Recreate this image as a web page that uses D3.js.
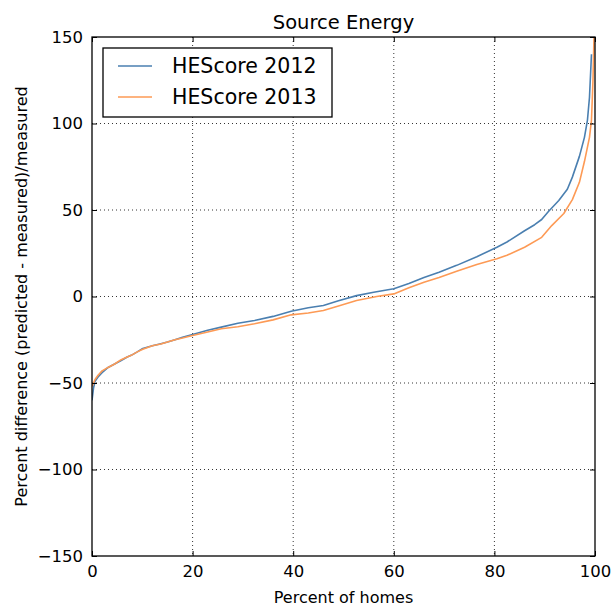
<!DOCTYPE html>
<html>
<head>
<meta charset="utf-8">
<script src="https://cdn.jsdelivr.net/npm/d3@7"></script>
<style>
  body { margin: 0; background: #fff; }
  svg { font-family: "DejaVu Sans", sans-serif; }
</style>
</head>
<body>
<svg id="chart" width="613" height="608"></svg>
<script>
// percent of homes (x) and percent difference (y)
const pct2012 = [0, 0.3, 0.6, 1.2, 2, 3.2, 4.5, 5.8, 7, 7.8, 9, 10.1, 12, 13.7, 15, 16.5, 18, 20,
  23, 25.7, 29, 32.3, 36, 39.6, 43, 46, 49, 52.6, 56, 60, 63, 66, 69, 72.5, 76.5, 80.5,
  82.5, 86, 88, 89.4, 90.7, 92.8, 94.5, 95.5, 96.9, 97.9, 98.5, 98.9, 99.3];
const diff2012 = [-60, -53, -49, -46.5, -44, -41, -39, -37, -35, -34, -32, -30, -28.5, -27.3, -26.3, -25, -23.5, -22,
  -19.5, -17.7, -15.5, -13.9, -11.5, -8.5, -6.5, -5.2, -2.5, 0.5, 2.5, 4.5, 7.5, 11, 14, 18, 23, 28.5,
  31.5, 38, 41.5, 44.5, 49, 55.5, 62, 69, 81, 92, 102, 115, 140];

const pct2013 = [0, 0.3, 0.6, 1.2, 2, 3.2, 4.5, 5.8, 7, 7.8, 9, 10.1, 12, 13.7, 15, 16.5, 18, 20,
  23, 25.7, 29, 32.3, 36, 39.6, 43, 46, 49, 52.6, 56.6, 60, 63, 66, 69, 72.5, 76.5, 80.5,
  82.5, 86, 89.4, 91.4, 93.8, 95.5, 96.9, 97.9, 98.9, 99.3, 99.6, 99.8, 100];
const diff2013 = [-52, -50, -48, -45.5, -43, -41, -39, -36.5, -35, -34, -32, -30.5, -28.5, -27.5, -26.3, -25, -24, -22.5,
  -20.5, -18.6, -17.5, -15.8, -13.5, -10.6, -9.5, -8.1, -5.5, -2.3, 0, 1.5, 5, 8.3, 11, 14.6, 18.5, 21.8,
  23.8, 28.5, 34.2, 41, 48, 56, 66, 78, 92, 102, 125, 150, 160];

const seriesNames = ["HEScore 2012", "HEScore 2013"];
const seriesColors = ["#4a7fb0", "#fd9a55"];
const xTicks = [0, 20, 40, 60, 80, 100];
const yTicks = [-150, -100, -50, 0, 50, 100, 150];

const svg = d3.select("#chart");
const margin = {left: 92, right: 18, top: 37, bottom: 52};
const W = 613 - margin.left - margin.right;
const H = 608 - margin.top - margin.bottom;

const x = d3.scaleLinear().domain([0, 100]).range([0, W]);
const y = d3.scaleLinear().domain([-150, 150]).range([H, 0]);

const g = svg.append("g").attr("transform", `translate(${margin.left},${margin.top})`);

svg.append("defs").append("clipPath").attr("id", "clip")
  .append("rect").attr("width", W).attr("height", H);

// grid
g.append("g").selectAll("line").data(xTicks.slice(1, -1)).join("line")
  .attr("x1", d => x(d)).attr("x2", d => x(d)).attr("y1", 0).attr("y2", H)
  .attr("stroke", "#000").attr("stroke-width", 0.8).attr("stroke-dasharray", "1,3");
g.append("g").selectAll("line").data(yTicks.slice(1, -1)).join("line")
  .attr("y1", d => y(d)).attr("y2", d => y(d)).attr("x1", 0).attr("x2", W)
  .attr("stroke", "#000").attr("stroke-width", 0.8).attr("stroke-dasharray", "1,3");

// lines
const line = d3.line().x(d => x(d[0])).y(d => y(d[1]));
const data = [d3.zip(pct2012, diff2012), d3.zip(pct2013, diff2013)];
g.append("g").attr("clip-path", "url(#clip)").selectAll("path").data(data).join("path")
  .attr("d", line)
  .attr("fill", "none")
  .attr("stroke", (d, i) => seriesColors[i])
  .attr("stroke-width", 1.6)
  .attr("stroke-linejoin", "round");

// axes, ticks inward on all sides
const tickStyle = sel => {
  sel.select(".domain").remove();
  sel.selectAll("text").attr("font-size", 16.5).attr("font-family", "DejaVu Sans").attr("fill", "#000");
  sel.selectAll("line").attr("stroke", "#000");
};
g.append("g").attr("transform", `translate(0,${H})`)
  .call(d3.axisBottom(x).tickValues(xTicks).tickSize(-5).tickPadding(9))
  .call(tickStyle);
g.append("g")
  .call(d3.axisLeft(y).tickValues(yTicks).tickSize(-5).tickPadding(9))
  .call(tickStyle);
g.append("g")
  .call(d3.axisTop(x).tickValues(xTicks).tickSize(-5).tickFormat(""))
  .call(tickStyle);
g.append("g").attr("transform", `translate(${W},0)`)
  .call(d3.axisRight(y).tickValues(yTicks).tickSize(-5).tickFormat(""))
  .call(tickStyle);

g.append("rect").attr("width", W).attr("height", H)
  .attr("fill", "none").attr("stroke", "#000").attr("stroke-width", 1.3);

// title and labels
svg.append("text").attr("x", margin.left + W / 2).attr("y", 29)
  .attr("text-anchor", "middle").attr("font-size", 19.5).text("Source Energy");
svg.append("text").attr("x", margin.left + W / 2).attr("y", 603)
  .attr("text-anchor", "middle").attr("font-size", 16).text("Percent of homes");
svg.append("text")
  .attr("transform", `translate(27,${margin.top + H / 2}) rotate(-90)`)
  .attr("text-anchor", "middle").attr("font-size", 16)
  .text("Percent difference (predicted - measured)/measured");

// legend
const leg = svg.append("g").attr("transform", "translate(103,48)");
leg.append("rect").attr("width", 229).attr("height", 69)
  .attr("fill", "#fff").attr("stroke", "#000").attr("stroke-width", 1.3);
seriesNames.forEach((name, i) => {
  const yy = 18 + i * 31;
  leg.append("line").attr("x1", 15).attr("x2", 49).attr("y1", yy).attr("y2", yy)
    .attr("stroke", seriesColors[i]).attr("stroke-width", 1.6);
  leg.append("text").attr("x", 69).attr("y", yy + 7).attr("font-size", 20.5).text(name);
});
</script>
</body>
</html>
